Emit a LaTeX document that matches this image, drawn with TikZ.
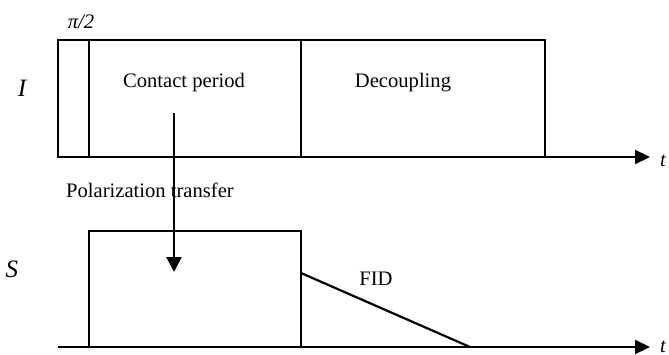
\documentclass[tikz,border=0pt]{standalone}
\usepackage{fontspec}
\setmainfont{Liberation Serif}
\usetikzlibrary{arrows.meta}

\begin{document}
\begin{tikzpicture}[x=0.5pt, y=-0.5pt, line width=1.1pt,
    every node/.style={font=\fontsize{10.3}{12}\selectfont},
    axis/.style={-{Triangle[length=7.5pt,width=7pt]}},
    lbl/.style={font=\fontsize{10.3}{12}\selectfont\itshape, anchor=base},
    chan/.style={font=\fontsize{12.5}{14}\selectfont\itshape, anchor=base},
    txt/.style={anchor=base}]
  \useasboundingbox (0,0) rectangle (669,354);
  % I channel
  \draw (58,40) rectangle (545,157);
  \draw (89,40) -- (89,157);
  \draw[line width=1.4pt] (301,40) -- (301,157);
  \coordinate (iorig) at (58,157);
  \coordinate (iend) at (650,157);
  \draw[axis] (iorig) -- (iend);
  \node[chan] (ilabel) at (22,96) {I};
  \node[lbl] (pihalf) at (81,28) {π/2};
  \node[lbl] (itime) at (663,166) {t};
  \node[txt] (contact) at (184,87) {Contact period};
  \node[txt] (decouple) at (403,87) {Decoupling};
  % S channel
  \draw (89,347) rectangle (301,231);
  \coordinate (fidstart) at (301,273);
  \coordinate (fidend) at (470,347);
  \draw (fidstart) -- (fidend);
  \coordinate (sorig) at (58,347);
  \coordinate (send) at (650,347);
  \draw[axis] (sorig) -- (send);
  \node[chan] (slabel) at (12,277) {S};
  \node[lbl] (stime) at (663,352) {t};
  \node[txt] (fid) at (376,285) {FID};
  % transfer
  \node[txt] (transfer) at (150,197) {Polarization transfer};
  \coordinate (pstart) at (174,113);
  \coordinate (pend) at (174,272);
  \draw[-{Triangle[length=7.5pt,width=7.5pt]}] (pstart) -- (pend);
\end{tikzpicture}
\end{document}
